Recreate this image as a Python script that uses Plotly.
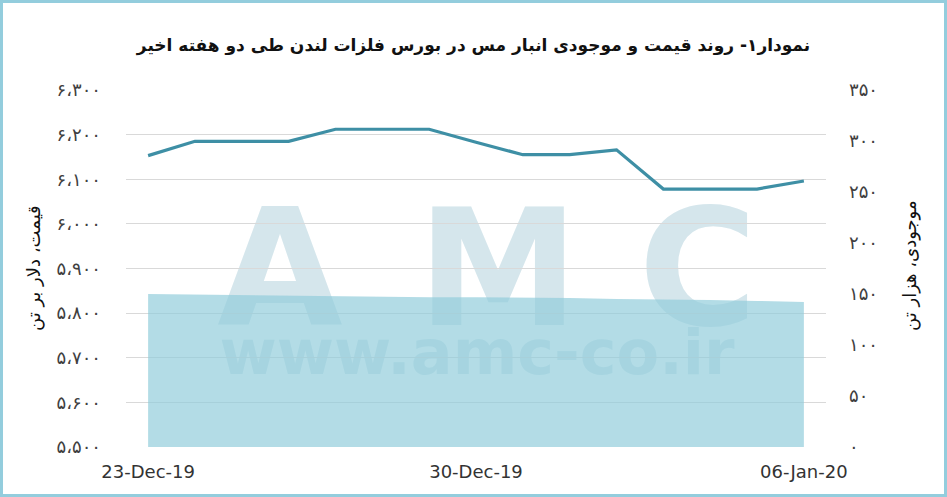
import plotly.graph_objects as go

# ---- data ----
dates = ["2019-12-23", "2019-12-24", "2019-12-25", "2019-12-26", "2019-12-27",
         "2019-12-28", "2019-12-29", "2019-12-30", "2019-12-31", "2020-01-01",
         "2020-01-02", "2020-01-03", "2020-01-04", "2020-01-05", "2020-01-06"]
price = [6153, 6185, 6185, 6185, 6212, 6212, 6212, 6183, 6155, 6155,
         6166, 6078, 6078, 6078, 6096]
inventory = [150, 149.4, 148.8, 148.2, 147.6, 147, 146.8, 146.8, 146.6, 146,
             145.2, 144.8, 144.1, 143.2, 142.2]

left_tickvals = [5500, 5600, 5700, 5800, 5900, 6000, 6100, 6200, 6300]
left_ticktext = ["۵،۵۰۰", "۵،۶۰۰", "۵،۷۰۰", "۵،۸۰۰", "۵،۹۰۰", "۶،۰۰۰", "۶،۱۰۰", "۶،۲۰۰", "۶،۳۰۰"]
right_tickvals = [0, 50, 100, 150, 200, 250, 300, 350]
right_ticktext = ["۰", "۵۰", "۱۰۰", "۱۵۰", "۲۰۰", "۲۵۰", "۳۰۰", "۳۵۰"]
x_tickvals = ["2019-12-23", "2019-12-30", "2020-01-06"]
x_ticktext = ["23-Dec-19", "30-Dec-19", "06-Jan-20"]

title_text = "نمودار۱- روند قیمت و موجودی انبار مس در بورس فلزات لندن طی دو هفته اخیر"
left_title = "قیمت، دلار بر تن"
right_title = "موجودی، هزار تن"

# ---- layout geometry (pixels) ----
W, H = 947, 497
L, R, T, B = 126, 826, 90, 447
pw, ph = R - L, B - T


def px(x):
    return (x - L) / pw


def py(y):
    return (B - y) / ph


fig = go.Figure()

fig.add_trace(go.Scatter(
    x=dates, y=inventory, yaxis="y2", mode="lines",
    line=dict(width=0, color="rgba(145,204,219,0.69)"),
    fill="tozeroy", fillcolor="rgba(145,204,219,0.69)",
    name="موجودی", showlegend=False, hoverinfo="x+y"))

fig.add_trace(go.Scatter(
    x=dates, y=price, yaxis="y", mode="lines",
    line=dict(width=3.2, color="#3e8fa5"),
    name="قیمت", showlegend=False, hoverinfo="x+y"))

shapes = []
wm_color = "#d5e6ec"
for letter, x0, x1 in [("A", 186, 374), ("M", 378, 618), ("C", 622, 774)]:
    shapes.append(dict(
        type="rect", xref="paper", yref="paper",
        x0=px(x0), x1=px(x1), y0=py(316), y1=py(197),
        line=dict(width=0), fillcolor="rgba(0,0,0,0)", layer="below",
        label=dict(text=letter, textposition="middle center",
                   font=dict(family="DejaVu Sans", size=162, color=wm_color,
                             weight="bold"))))
shapes.append(dict(
    type="rect", xref="paper", yref="paper",
    x0=px(190), x1=px(764), y0=py(372), y1=py(324),
    line=dict(width=0), fillcolor="rgba(0,0,0,0)", layer="below",
    label=dict(text="www.amc-co.ir", textposition="middle center",
               font=dict(family="DejaVu Sans", size=62, color=wm_color,
                         weight="bold"))))
# frame
shapes.append(dict(
    type="rect", xref="paper", yref="paper",
    x0=px(1.5), x1=px(945.5), y0=py(495.5), y1=py(1.5),
    line=dict(width=3, color="#93cddd"), fillcolor="rgba(0,0,0,0)", layer="above"))

fig.update_layout(
    width=W, height=H,
    margin=dict(l=L, r=W - R, t=T, b=H - B),
    paper_bgcolor="white", plot_bgcolor="rgba(0,0,0,0)",
    font=dict(family="DejaVu Sans", color="#404040"),
    title=dict(text="<b>" + title_text + "</b>", x=0.5, xref="container",
               y=1 - 45 / H, yref="container", xanchor="center", yanchor="middle",
               font=dict(family="DejaVu Sans", size=17, color="#111111")),
    xaxis=dict(type="date", range=["2019-12-22 12:40", "2020-01-06 11:20"],
               tickvals=x_tickvals, ticktext=x_ticktext, showgrid=False,
               showline=False, zeroline=False, ticks="",
               ticklabelstandoff=12,
               tickfont=dict(family="DejaVu Sans", size=18, color="#333333")),
    yaxis=dict(range=[5500, 6300], tickvals=left_tickvals, ticktext=left_ticktext,
               showgrid=True, gridcolor="#d9d9d9", gridwidth=1, zeroline=False,
               showline=False, ticks="", ticklabelstandoff=24,
               tickfont=dict(family="DejaVu Sans", size=18, color="#404040")),
    yaxis2=dict(range=[0, 350], overlaying="y", side="right",
                tickvals=right_tickvals, ticktext=right_ticktext,
                showgrid=False, zeroline=False, showline=False, ticks="",
                ticklabelstandoff=22,
                tickfont=dict(family="DejaVu Sans", size=18, color="#404040")),
    shapes=shapes,
    annotations=[
        dict(text=left_title, xref="paper", yref="paper", x=px(34), y=py(268),
             textangle=-90, showarrow=False, xanchor="center", yanchor="middle",
             font=dict(family="DejaVu Sans", size=18, color="#111111")),
        dict(text=right_title, xref="paper", yref="paper", x=px(910), y=py(266),
             textangle=-90, showarrow=False, xanchor="center", yanchor="middle",
             font=dict(family="DejaVu Sans", size=18, color="#111111")),
    ],
)

fig.write_html("out.html",
               config={"displayModeBar": False},
               post_script="document.body.style.margin='0';document.body.style.padding='0';")
